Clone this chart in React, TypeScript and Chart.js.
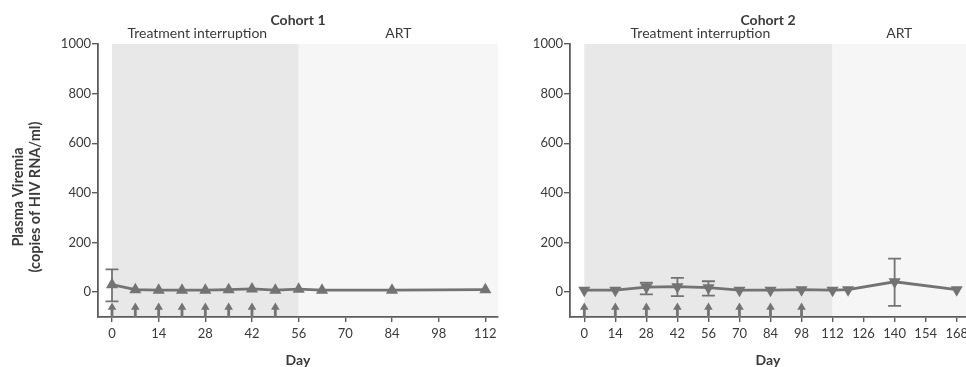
import React, { useEffect, useRef } from 'react';
import { Chart, registerables } from 'chart.js';
Chart.register(...registerables);

// ---- data ----
const yTicks = [0, 200, 400, 600, 800, 1000];

const c1XTicks = [0, 14, 28, 42, 56, 70, 84, 98, 112];
const c1Days = [0, 7, 14, 21, 28, 35, 42, 49, 56, 63, 84, 112];
const c1Values = [30, 10, 8, 8, 8, 10, 13, 8, 12, 8, 8, 10];
const c1ErrLow = [-37, null, null, null, null, null, null, null, null, null, null, null];
const c1ErrHigh = [92, null, null, null, null, null, null, null, null, null, null, null];
const c1DoseDays = [0, 7, 14, 21, 28, 35, 42, 49];
const c1Interruption = [0, 56];
const c1Range = [-4.2, 115.8];

const c2XTicks = [0, 14, 28, 42, 56, 70, 84, 98, 112, 126, 140, 154, 168];
const c2Days = [0, 14, 28, 42, 56, 70, 84, 98, 112, 119, 140, 168];
const c2Values = [8, 8, 20, 22, 18, 8, 8, 10, 8, 10, 42, 10];
const c2ErrLow = [null, null, -9, -16, -14, null, null, null, null, null, -55, null];
const c2ErrHigh = [null, null, 38, 58, 44, null, null, null, null, null, 135, null];
const c2DoseDays = [0, 14, 28, 42, 56, 70, 84, 98];
const c2Interruption = [0, 112];
const c2Range = [-6.45, 172.2];

const yRange = [-100, 1000];

const FONT = 'Lato, "Open Sans", sans-serif';
const GRAY = '#737373';
const AXIS = '#5c5c5c';
const TEXT = '#3a3a3a';

type Cfg = {
  key: string;
  title: string;
  xTicks: number[];
  days: number[];
  values: number[];
  errLow: (number | null)[];
  errHigh: (number | null)[];
  doseDays: number[];
  interruption: number[];
  range: number[];
  rotation: number;
  yAxisWidth: number;
  plotWidth: number;
  showYTitle: boolean;
};

function makeOverlay(cfg: Cfg) {
  return {
    id: 'overlay_' + cfg.key,
    beforeDraw(chart: any) {
      const { ctx, chartArea: a, scales } = chart;
      const x = scales.x;
      const x0 = x.getPixelForValue(cfg.interruption[0]);
      const x1 = x.getPixelForValue(cfg.interruption[1]);
      ctx.save();
      ctx.fillStyle = '#e8e8e8';
      ctx.fillRect(x0, a.top, x1 - x0, a.bottom - a.top);
      ctx.fillStyle = '#f6f6f6';
      ctx.fillRect(x1, a.top, a.right - x1, a.bottom - a.top);
      ctx.restore();
    },
    beforeDatasetsDraw(chart: any) {
      const { ctx, chartArea: a, scales } = chart;
      const x = scales.x;
      const y = scales.y;
      ctx.save();
      // error bars
      ctx.strokeStyle = GRAY;
      ctx.lineWidth = 1.8;
      cfg.days.forEach((d, i) => {
        const lo = cfg.errLow[i];
        const hi = cfg.errHigh[i];
        if (lo == null || hi == null) return;
        const px = x.getPixelForValue(d);
        const pl = y.getPixelForValue(lo);
        const ph = y.getPixelForValue(hi);
        ctx.beginPath();
        ctx.moveTo(px, pl);
        ctx.lineTo(px, ph);
        ctx.moveTo(px - 6.5, pl);
        ctx.lineTo(px + 6.5, pl);
        ctx.moveTo(px - 6.5, ph);
        ctx.lineTo(px + 6.5, ph);
        ctx.stroke();
      });
      // dosing arrows
      ctx.fillStyle = GRAY;
      ctx.strokeStyle = GRAY;
      cfg.doseDays.forEach((d) => {
        const px = x.getPixelForValue(d);
        const base = a.bottom;
        const tip = base - 14.5;
        ctx.lineWidth = 2.8;
        ctx.beginPath();
        ctx.moveTo(px, base);
        ctx.lineTo(px, tip + 5);
        ctx.stroke();
        ctx.beginPath();
        ctx.moveTo(px, tip);
        ctx.lineTo(px - 4.3, tip + 7.2);
        ctx.lineTo(px + 4.3, tip + 7.2);
        ctx.closePath();
        ctx.fill();
      });
      ctx.restore();
    },
    afterDraw(chart: any) {
      const { ctx, chartArea: a, scales } = chart;
      const x = scales.x;
      const x0 = x.getPixelForValue(cfg.interruption[0]);
      const x1 = x.getPixelForValue(cfg.interruption[1]);
      const cx = (a.left + a.right) / 2;
      ctx.save();
      ctx.fillStyle = TEXT;
      ctx.textAlign = 'center';
      ctx.textBaseline = 'alphabetic';
      ctx.font = `bold 14px ${FONT}`;
      ctx.fillText(cfg.title, cx, a.top - 19);
      ctx.font = `14px ${FONT}`;
      ctx.fillText('Treatment interruption', (x0 + x1) / 2 - 8, a.top - 6);
      ctx.fillText('ART', (x1 + a.right) / 2, a.top - 6);
      ctx.font = `bold 14px ${FONT}`;
      ctx.textBaseline = 'middle';
      ctx.fillText('Day', cx, a.bottom + 43);
      if (cfg.showYTitle) {
        ctx.translate(0, 197);
        ctx.rotate(-Math.PI / 2);
        ctx.font = `bold 14.5px ${FONT}`;
        ctx.fillText('Plasma Viremia', 0, 18);
        ctx.fillText('(copies of HIV RNA/ml)', 0, 35);
      }
      ctx.restore();
    },
  };
}

function CohortChart({ cfg, left, width }: { cfg: Cfg; left: number; width: number }) {
  const ref = useRef<HTMLCanvasElement | null>(null);
  useEffect(() => {
    const points = cfg.days.map((d, i) => ({ x: d, y: cfg.values[i] }));
    const chart = new Chart(ref.current as HTMLCanvasElement, {
      type: 'scatter',
      data: {
        datasets: [
          {
            data: points,
            showLine: true,
            borderColor: GRAY,
            borderWidth: 2.8,
            backgroundColor: GRAY,
            pointStyle: 'triangle',
            pointRadius: 7,
            pointRotation: cfg.rotation,
            pointBorderWidth: 0,
            pointBackgroundColor: GRAY,
            clip: false as any,
          },
        ],
      },
      options: {
        animation: false,
        responsive: false,
        events: [],
        layout: {
          padding: { top: 44, left: 0, right: width - (cfg.yAxisWidth + cfg.plotWidth), bottom: 0 },
        },
        plugins: { legend: { display: false }, tooltip: { enabled: false }, title: { display: false } },
        scales: {
          x: {
            type: 'linear',
            min: cfg.range[0],
            max: cfg.range[1],
            afterBuildTicks: (s: any) => {
              s.ticks = cfg.xTicks.map((v) => ({ value: v }));
            },
            afterFit: (s: any) => {
              s.height = 50;
            },
            grid: { drawOnChartArea: false, drawTicks: true, tickLength: 5, color: AXIS, lineWidth: 1.4 },
            border: { display: true, color: AXIS, width: 1.8 },
            ticks: {
              autoSkip: false,
              maxRotation: 0,
              padding: 4,
              color: TEXT,
              font: { family: FONT, size: 13 },
              callback: (v: any) => String(v),
            },
          },
          y: {
            type: 'linear',
            min: yRange[0],
            max: yRange[1],
            afterBuildTicks: (s: any) => {
              s.ticks = yTicks.map((v) => ({ value: v }));
            },
            afterFit: (s: any) => {
              s.width = cfg.yAxisWidth;
            },
            grid: { drawOnChartArea: false, drawTicks: true, tickLength: 6, color: AXIS, lineWidth: 1.4 },
            border: { display: true, color: AXIS, width: 1.8 },
            ticks: {
              padding: 1,
              color: TEXT,
              font: { family: FONT, size: 13 },
              callback: (v: any) => String(v),
            },
          },
        },
      },
      plugins: [makeOverlay(cfg)],
    } as any);
    return () => chart.destroy();
  }, []);
  return (
    <canvas
      ref={ref}
      width={width}
      height={367}
      style={{ position: 'absolute', left, top: 0, width, height: 367 }}
    />
  );
}

const cfg1: Cfg = {
  key: 'c1',
  title: 'Cohort 1',
  xTicks: c1XTicks,
  days: c1Days,
  values: c1Values,
  errLow: c1ErrLow,
  errHigh: c1ErrHigh,
  doseDays: c1DoseDays,
  interruption: c1Interruption,
  range: c1Range,
  rotation: 0,
  yAxisWidth: 98,
  plotWidth: 400,
  showYTitle: true,
};

const cfg2: Cfg = {
  key: 'c2',
  title: 'Cohort 2',
  xTicks: c2XTicks,
  days: c2Days,
  values: c2Values,
  errLow: c2ErrLow,
  errHigh: c2ErrHigh,
  doseDays: c2DoseDays,
  interruption: c2Interruption,
  range: c2Range,
  rotation: 180,
  yAxisWidth: 80,
  plotWidth: 396,
  showYTitle: false,
};

export default function App() {
  return (
    <div
      style={{
        position: 'fixed',
        left: 0,
        top: 0,
        width: 966,
        height: 367,
        overflow: 'hidden',
        background: '#fff',
      }}
    >
      <CohortChart cfg={cfg1} left={0} width={505} />
      <CohortChart cfg={cfg2} left={490} width={500} />
    </div>
  );
}
